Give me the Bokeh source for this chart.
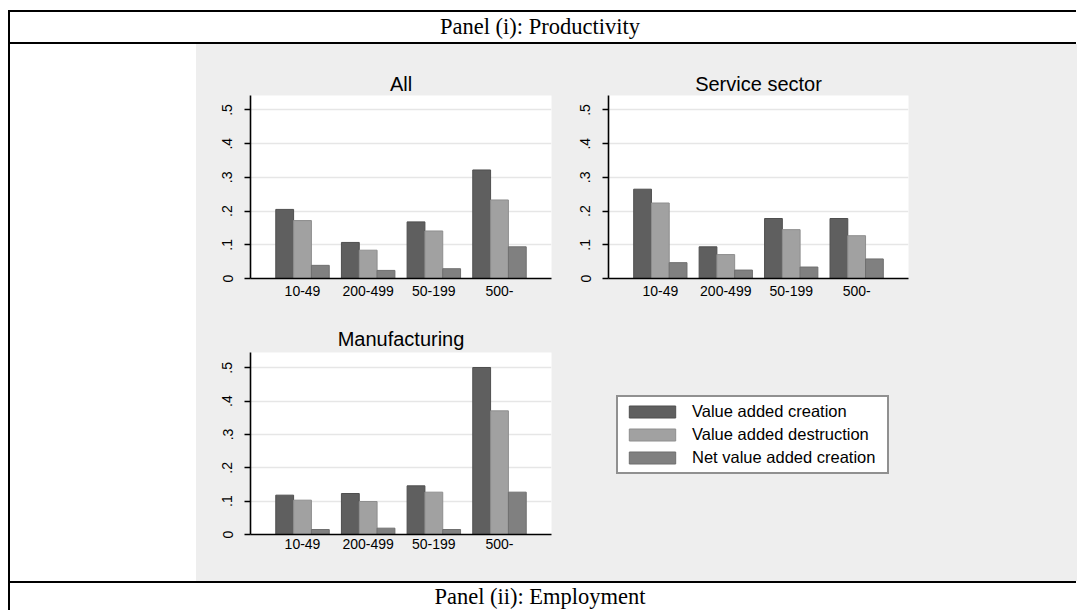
from bokeh.plotting import figure
from bokeh.models import (FactorRange, Range1d, ColumnDataSource, FixedTicker,
                          CustomJSTickFormatter, Legend, LegendItem, Div, Spacer)
from bokeh.transform import dodge
from bokeh.layouts import row, column
from bokeh.embed import file_html
from bokeh.resources import INLINE

# ---------------- data ----------------
categories = ["10-49", "200-499", "50-199", "500-"]
series_keys = ["creation", "destruction", "net"]
series_labels = ["Value added creation", "Value added destruction", "Net value added creation"]

all_creation = [0.205, 0.107, 0.168, 0.322]
all_destruction = [0.172, 0.084, 0.141, 0.233]
all_net = [0.039, 0.024, 0.029, 0.094]

svc_creation = [0.265, 0.094, 0.178, 0.178]
svc_destruction = [0.224, 0.071, 0.145, 0.127]
svc_net = [0.047, 0.025, 0.034, 0.058]

mfg_creation = [0.118, 0.123, 0.146, 0.501]
mfg_destruction = [0.103, 0.099, 0.127, 0.371]
mfg_net = [0.015, 0.019, 0.015, 0.127]

y_ticks = [0, 0.1, 0.2, 0.3, 0.4, 0.5]
y_tick_labels = ["0", ".1", ".2", ".3", ".4", ".5"]

header_text = "Panel (i): Productivity"
footer_text = "Panel (ii): Employment"

# ---------------- styles ----------------
series_fill = ["#5f5f5f", "#a1a1a1", "#808080"]
series_line = ["#4f4f4f", "#8e8e8e", "#6f6f6f"]
GRAY = "#EEEEEE"
FONT = "Liberation Sans"
BAR_W = 0.2714
OFFSETS = [-BAR_W, 0.0, BAR_W]


def panel(title, vals, frame_w, frame_h, ymax, bl, br, bt, bb, title_standoff, x_standoff):
    src = ColumnDataSource(dict(cat=categories, creation=vals[0],
                                destruction=vals[1], net=vals[2]))
    p = figure(x_range=FactorRange(factors=categories, range_padding=0.292,
                                   range_padding_units="absolute", factor_padding=0),
               y_range=Range1d(0, ymax),
               frame_width=frame_w, frame_height=frame_h,
               min_border_left=bl, min_border_right=br,
               min_border_top=bt, min_border_bottom=bb,
               toolbar_location=None, output_backend="svg", title=title,
               background_fill_color="white", border_fill_color=GRAY,
               outline_line_color=None)
    renderers = []
    for key, off, fc, lc in zip(series_keys, OFFSETS, series_fill, series_line):
        r = p.vbar(x=dodge("cat", off, range=p.x_range), top=key, width=BAR_W,
                   source=src, fill_color=fc, line_color=lc, line_width=1)
        renderers.append(r)
    p.title.align = "center"
    p.title.text_font = FONT
    p.title.text_font_size = "20px"
    p.title.text_font_style = "normal"
    p.title.text_color = "black"
    p.title.standoff = title_standoff

    p.yaxis.ticker = FixedTicker(ticks=y_ticks)
    p.yaxis.formatter = CustomJSTickFormatter(
        args=dict(tvals=y_ticks, tlabs=y_tick_labels),
        code="const i = tvals.findIndex(t => Math.abs(t - tick) < 1e-9); return i >= 0 ? tlabs[i] : '';")
    p.yaxis.major_label_orientation = "vertical"
    p.yaxis.major_tick_out = 6
    p.yaxis.major_tick_in = 0
    p.yaxis.minor_tick_line_color = None
    p.yaxis.major_label_standoff = 12
    p.xaxis.major_label_standoff = x_standoff
    for ax in (p.xaxis, p.yaxis):
        ax.axis_line_color = "black"
        ax.axis_line_width = 1.6
        ax.major_label_text_font = FONT
        ax.major_label_text_font_size = "14px"
        ax.major_label_text_color = "black"
    p.yaxis.major_tick_line_color = "black"
    p.yaxis.major_tick_line_width = 1.5
    p.xaxis.major_tick_line_color = None
    p.xgrid.grid_line_color = None
    p.ygrid.grid_line_color = "#E6E6E6"
    p.ygrid.grid_line_width = 1.5
    return p, renderers


p_all, _ = panel("All", [all_creation, all_destruction, all_net],
                 301, 183, 0.543, 54, 15, 51, 42, 2, 1)
p_svc, _ = panel("Service sector", [svc_creation, svc_destruction, svc_net],
                 300, 183, 0.543, 42, 29, 51, 42, 2, 1)
p_mfg, mfg_rs = panel("Manufacturing", [mfg_creation, mfg_destruction, mfg_net],
                      301, 182, 0.546, 54, 386, 32, 47, 5, -2)

legend = Legend(items=[LegendItem(label=lab, renderers=[r])
                       for lab, r in zip(series_labels, mfg_rs)],
                location=(65, 60), margin=0,
                glyph_width=58, glyph_height=15, label_standoff=11,
                label_width=190, label_height=17, spacing=4, padding=5,
                label_text_font=FONT, label_text_font_size="16.5px",
                label_text_color="black",
                border_line_color="#222222", border_line_width=2,
                background_fill_color="white", background_fill_alpha=1)
p_mfg.add_layout(legend, "right")

graph = column(row(p_all, p_svc, spacing=0, styles={"background-color": GRAY}),
               p_mfg, spacing=0, styles={"background-color": GRAY})

# ---------------- table frame ----------------
W = 1066


def hline():
    return Div(text="", width=W, height=2, margin=0,
               styles={"background-color": "black"})


def cell(txt, h, pad_top):
    html = ('<div style="width:%dpx;text-align:center;font-family:\'Liberation Serif\';'
            'font-size:22.5px;color:black;line-height:%dpx;padding-top:%dpx;">%s</div>'
            % (W - 6, h - pad_top, pad_top, txt))
    return Div(text=html, width=W, height=h, margin=0)


header = cell(header_text, 30, 0)
footer = cell(footer_text, 27, 0)
middle = row(Spacer(width=186, height=537, margin=0), graph,
             Spacer(width=W - 186 - 741, height=537, margin=0), spacing=0)
inner = column(hline(), header, hline(), middle, hline(), footer, spacing=0)
vline = Div(text="", width=2, height=600, margin=0,
            styles={"background-color": "black"})
root = column(Spacer(width=10, height=10, margin=0),
              row(Spacer(width=8, height=600, margin=0), vline, inner, spacing=0),
              spacing=0)

open("out.html", "w").write(file_html(root, INLINE))
